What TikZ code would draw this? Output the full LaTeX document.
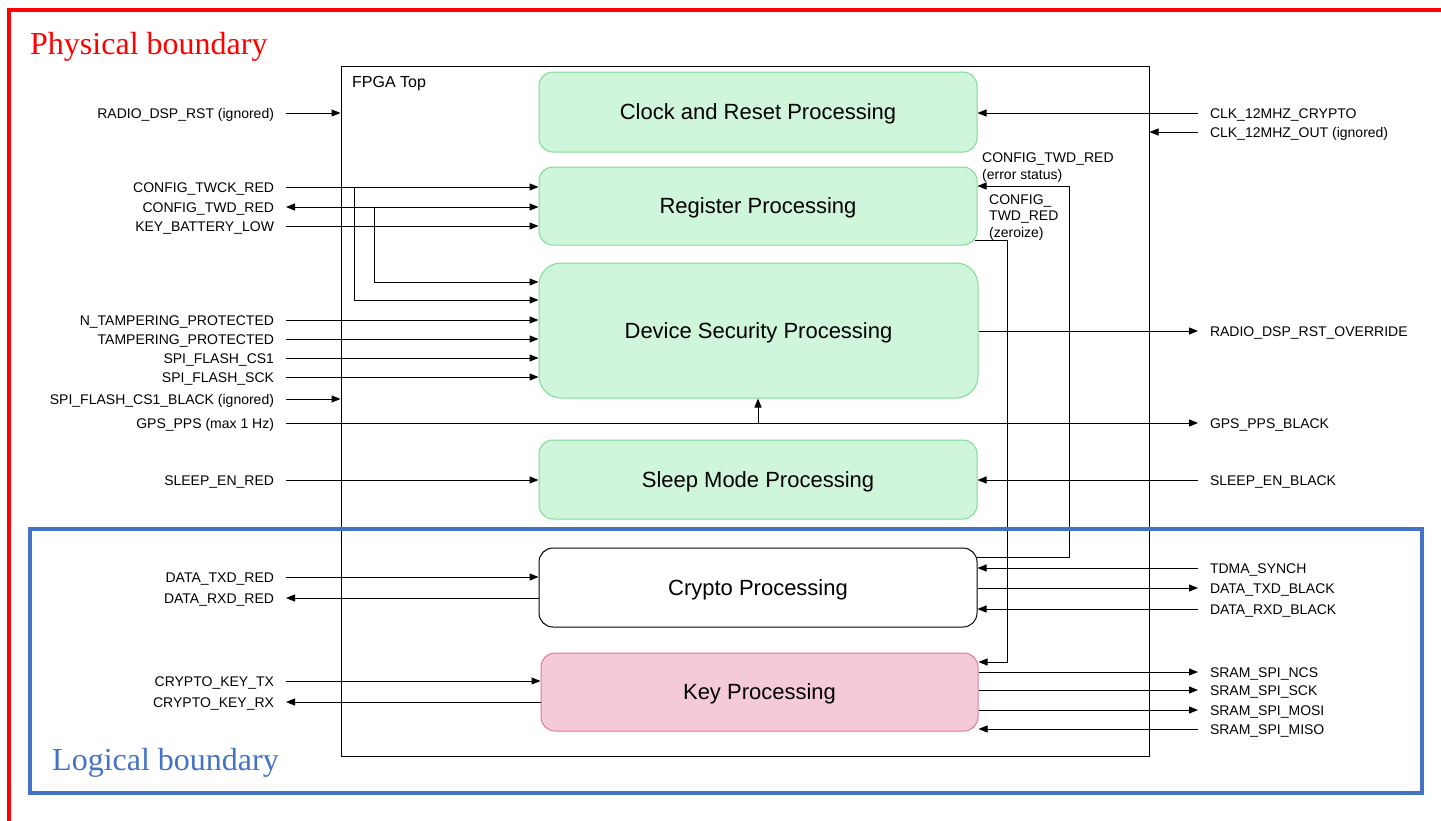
\documentclass[tikz,border=0pt]{standalone}
\usepackage{fontspec}
\setmainfont{Liberation Sans}
\newfontfamily\seriffont{Liberation Serif}
\usetikzlibrary{arrows.meta}
\definecolor{boxgreen}{RGB}{207,245,219}
\definecolor{edgegreen}{RGB}{130,218,150}
\definecolor{boxpink}{RGB}{245,202,216}
\definecolor{edgepink}{RGB}{228,120,150}
\definecolor{logblue}{RGB}{68,114,196}
\definecolor{physred}{RGB}{255,0,0}
\begin{document}
\begin{tikzpicture}[x=1pt,y=-1pt,
  sig/.style={font=\fontsize{14}{16}\selectfont, inner sep=0pt, outer xsep=12pt, text height=10pt, text depth=0pt},
  lsig/.style={sig, anchor=east},
  rsig/.style={sig, anchor=west},
  proc/.style={rounded corners=14pt, minimum width=438pt, inner sep=0pt, line width=1pt, font=\fontsize{22}{26}\selectfont, text height=15.75pt, text depth=0pt},
  greenproc/.style={proc, fill=boxgreen, draw=edgegreen},
  arr/.style={-{Triangle[length=9pt,width=7pt]}, line width=1pt},
  darr/.style={{Triangle[length=9pt,width=7pt]}-{Triangle[length=9pt,width=7pt]}, line width=1pt},
  note/.style={font=\fontsize{14}{16.5}\selectfont, inner sep=0pt, align=left},
  bound/.style={font=\seriffont\fontsize{32}{36}\selectfont, inner sep=0pt, anchor=west, text height=21pt, text depth=0pt}
]
\useasboundingbox (0,0) rectangle (1441,820);
\fill[white] (0,0) rectangle (1441,820);

% FPGA frame
\node[draw, line width=1pt, minimum width=808pt, minimum height=690pt, inner sep=0pt] (fpga) at (745,411) {};
\node[anchor=west, font=\fontsize{16}{18}\selectfont, inner sep=0pt, text height=11.5pt, text depth=0pt] (fpgat) at (352,82) {FPGA Top};

% processing blocks
\node[greenproc, minimum height=80pt] (clock) at (758,112) {Clock and Reset Processing};
\node[greenproc, minimum height=78pt] (reg) at (758,206) {Register Processing};
\node[greenproc, rounded corners=22pt, minimum width=439pt, minimum height=135pt] (dev) at (758.5,330.5) {Device Security Processing};
\node[greenproc, minimum height=79pt] (sleep) at (758,479.5) {Sleep Mode Processing};
\node[proc, draw=black, fill=white, minimum height=79pt] (crypto) at (758,587.5) {Crypto Processing};
\node[proc, draw=edgepink, fill=boxpink, minimum width=437pt, minimum height=78pt] (key) at (759.5,692) {Key Processing};

% left signal labels
\node[lsig] (rdr) at (286,113) {RADIO\_DSP\_RST (ignored)};
\node[lsig] (twck) at (286,187) {CONFIG\_TWCK\_RED};
\node[lsig] (twd) at (286,207) {CONFIG\_TWD\_RED};
\node[lsig] (kbl) at (286,226) {KEY\_BATTERY\_LOW};
\node[lsig] (ntp) at (286,320) {N\_TAMPERING\_PROTECTED};
\node[lsig] (tp) at (286,339) {TAMPERING\_PROTECTED};
\node[lsig] (cs1) at (286,358) {SPI\_FLASH\_CS1};
\node[lsig] (sck) at (286,377) {SPI\_FLASH\_SCK};
\node[lsig] (cs1b) at (286,399) {SPI\_FLASH\_CS1\_BLACK (ignored)};
\node[lsig] (gps) at (286,423) {GPS\_PPS (max 1 Hz)};
\node[lsig] (sler) at (286,480) {SLEEP\_EN\_RED};
\node[lsig] (txr) at (286,577) {DATA\_TXD\_RED};
\node[lsig] (rxr) at (286,598) {DATA\_RXD\_RED};
\node[lsig] (ktx) at (286,681) {CRYPTO\_KEY\_TX};
\node[lsig] (krx) at (286,702) {CRYPTO\_KEY\_RX};

% right signal labels
\node[rsig] (clkc) at (1198,113) {CLK\_12MHZ\_CRYPTO};
\node[rsig] (clko) at (1198,132) {CLK\_12MHZ\_OUT (ignored)};
\node[rsig] (rdo) at (1198,331) {RADIO\_DSP\_RST\_OVERRIDE};
\node[rsig] (gpsb) at (1198,423) {GPS\_PPS\_BLACK};
\node[rsig] (sleb) at (1198,480) {SLEEP\_EN\_BLACK};
\node[rsig] (tdma) at (1198,568) {TDMA\_SYNCH};
\node[rsig] (txb) at (1198,588) {DATA\_TXD\_BLACK};
\node[rsig] (rxb) at (1198,609) {DATA\_RXD\_BLACK};
\node[rsig] (ncs) at (1198,672) {SRAM\_SPI\_NCS};
\node[rsig] (ssck) at (1198,690) {SRAM\_SPI\_SCK};
\node[rsig] (mosi) at (1198,710) {SRAM\_SPI\_MOSI};
\node[rsig] (miso) at (1198,729) {SRAM\_SPI\_MISO};

% internal notes
\node[note, anchor=north west] (errnote) at (982,153) {CONFIG\_TWD\_RED\\(error status)};
\node[note, anchor=north west] (zernote) at (989,194.5) {CONFIG\_\\TWD\_RED\\(zeroize)};

% junction coordinates
\coordinate (j1) at (354,187);
\coordinate (j2) at (374,207);
\coordinate (j3) at (758,423);

% left connectors
\draw[arr] (rdr.east) -- (fpga.west |- rdr.east);
\draw[arr] (twck.east) -- (reg.west |- twck.east);
\draw[darr] (twd.east) -- (reg.west |- twd.east);
\draw[arr] (kbl.east) -- (reg.west |- kbl.east);
\draw[arr] (j2) |- (dev.west |- 0,282);
\draw[arr] (j1) |- (dev.west |- 0,300);
\draw[arr] (ntp.east) -- (dev.west |- ntp.east);
\draw[arr] (tp.east) -- (dev.west |- tp.east);
\draw[arr] (cs1.east) -- (dev.west |- cs1.east);
\draw[arr] (sck.east) -- (dev.west |- sck.east);
\draw[arr] (cs1b.east) -- (fpga.west |- cs1b.east);
\draw[arr] (gps.east) -- (gpsb.west);
\draw[arr] (j3) -- (dev.south -| j3);
\draw[arr] (sler.east) -- (sleep.west |- sler.east);
\draw[arr] (txr.east) -- (crypto.west |- txr.east);
\draw[arr] (crypto.west |- rxr.east) -- (rxr.east);
\draw[arr] (ktx.east) -- (key.west |- ktx.east);
\draw[arr] (key.west |- krx.east) -- (krx.east);

% right connectors
\draw[arr] (clkc.west) -- (clock.east |- clkc.west);
\draw[arr] (clko.west) -- (fpga.east |- clko.west);
\draw[arr] (dev.east |- rdo.west) -- (rdo.west);
\draw[arr] (sleb.west) -- (sleep.east |- sleb.west);
\draw[arr] (tdma.west) -- (crypto.east |- tdma.west);
\draw[arr] (crypto.east |- txb.west) -- (txb.west);
\draw[arr] (rxb.west) -- (crypto.east |- rxb.west);
\draw[arr] (key.east |- ncs.west) -- (ncs.west);
\draw[arr] (key.east |- ssck.west) -- (ssck.west);
\draw[arr] (key.east |- mosi.west) -- (mosi.west);
\draw[arr] (miso.west) -- (key.east |- miso.west);

% internal feedback wires
\draw[arr] ([xshift=-1pt]crypto.east |- 0,557) -| (1069,186) -- (reg.east |- 0,186);
\draw[arr] ([xshift=-3pt]reg.east |- 0,240) -| (1007,662) -- (key.east |- 0,662);

% boundaries
\draw[logblue, line width=3.5pt] (30,529) rectangle (1422,793);
\draw[physred, line width=3.5pt] (9,10) rectangle (1470,850);
\node[bound, text=physred] (phys) at (30,44) {Physical boundary};
\node[bound, text=logblue] (logi) at (52,760) {Logical boundary};
\end{tikzpicture}
\end{document}
